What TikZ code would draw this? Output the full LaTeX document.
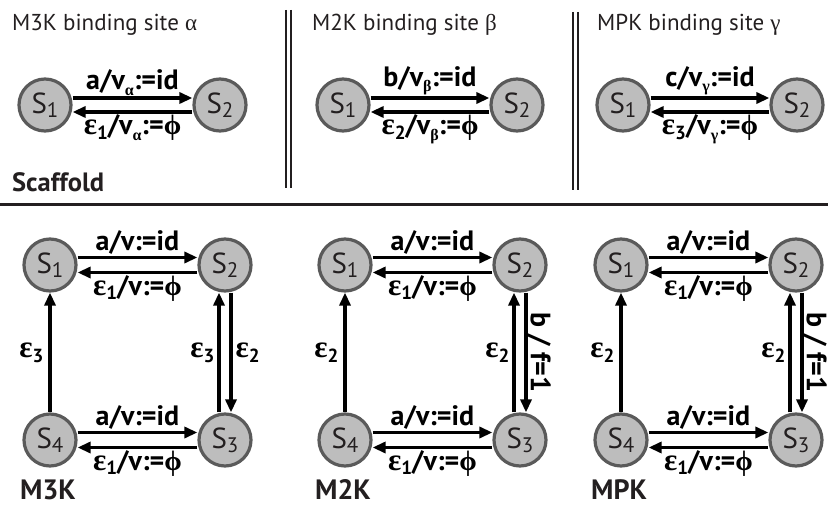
\documentclass[tikz,border=0pt]{standalone}
\usepackage{fontspec}
\usepackage{graphicx}
\setmainfont{PT Sans}
\newfontfamily\grk{Liberation Serif}
\usetikzlibrary{arrows.meta,calc}
\definecolor{sstroke}{HTML}{5A5A5A}
\definecolor{sfill}{HTML}{BDBDBD}
\definecolor{sdark}{HTML}{231F20}
\newcommand\lowsub[1]{\raisebox{-0.35ex}{\fontsize{19}{19}\selectfont #1}}
\newcommand\grsub[1]{\raisebox{-0.4ex}{\fontsize{16}{16}\selectfont #1}}
\newcommand\gal{{\grk α}}
\newcommand\gbe{{\grk β}}
\newcommand\gga{{\grk γ}}
\newcommand\geps{{\grk\fontsize{31}{31}\selectfont ε}}
\newcommand\gphi{{\grk ϕ}}
\newcommand\snum[1]{S\raisebox{-0.3ex}{\fontsize{21}{21}\selectfont #1}}
\begin{document}
\begin{tikzpicture}[x=1pt,y=-1pt,
 st/.style={circle,draw=sstroke,fill=sfill,line width=3.2pt,minimum size=52pt,inner sep=0pt,outer sep=1.6pt,font=\fontsize{29}{29}\selectfont,text=sdark},
 arr/.style={line width=3.2pt,-{Triangle[length=13pt,width=11pt]}},
 el/.style={font=\bfseries\fontsize{28}{28}\selectfont, inner sep=1pt, text=black},
 ttl/.style={font=\fontsize{23}{23}\selectfont, anchor=west, inner sep=0pt, text=sdark},
 big/.style={font=\bfseries\fontsize{28}{28}\selectfont, anchor=west, inner sep=0pt, text=sdark},
 vline/.style={line width=1.7pt, draw=sdark},
 ]
\useasboundingbox (0,0) rectangle (828,508);

% ---------- top: scaffold binding sites ----------
\node[ttl] (ti1) at (12,25) {M3K binding site \gal};
\node[ttl] (ti2) at (312,25) {M2K binding site \gbe};
\node[ttl] (ti3) at (597,25) {MPK binding site \gga};
\node[big,font=\bfseries\fontsize{26.5}{26.5}\selectfont] (scaf) at (12,182) {Scaffold};

\node[st] (t1a) at (45,105) {\snum{1}};
\node[st] (t1b) at (220,105) {\snum{2}};
\node[st] (t2a) at (343,105) {\snum{1}};
\node[st] (t2b) at (517,105) {\snum{2}};
\node[st] (t3a) at (623,105) {\snum{1}};
\node[st] (t3b) at (797,105) {\snum{2}};

\draw[arr] ([yshift=7pt]t1a.east) -- ([yshift=7pt]t1b.west) node[midway,above,el]{a/v\grsub{\gal}:=id};
\draw[arr] ([yshift=-7pt]t1b.west) -- ([yshift=-7pt]t1a.east) node[midway,below,el]{\geps\lowsub{1}/v\grsub{\gal}:=\gphi};
\draw[arr] ([yshift=7pt]t2a.east) -- ([yshift=7pt]t2b.west) node[midway,above,el]{b/v\grsub{\gbe}:=id};
\draw[arr] ([yshift=-7pt]t2b.west) -- ([yshift=-7pt]t2a.east) node[midway,below,el]{\geps\lowsub{2}/v\grsub{\gbe}:=\gphi};
\draw[arr] ([yshift=7pt]t3a.east) -- ([yshift=7pt]t3b.west) node[midway,above,el]{c/v\grsub{\gga}:=id};
\draw[arr] ([yshift=-7pt]t3b.west) -- ([yshift=-7pt]t3a.east) node[midway,below,el]{\geps\lowsub{3}/v\grsub{\gga}:=\gphi};

\draw[vline] (286,10) -- (286,188);
\draw[vline] (291,10) -- (291,188);
\draw[vline] (573,12) -- (573,190);
\draw[vline] (578,12) -- (578,190);

\draw[line width=3pt, draw=sdark] (0,205) -- (828,205);

% ---------- bottom: M3K ----------
\node[st] (a1) at (50,265) {\snum{1}};
\node[st] (a2) at (225,265) {\snum{2}};
\node[st] (a3) at (225,440) {\snum{3}};
\node[st] (a4) at (50,440) {\snum{4}};
\node[big] (n1) at (20,490) {M3K};
\draw[arr] ([yshift=7.5pt]a1.east) -- ([yshift=7.5pt]a2.west) node[midway,above,el]{a/v:=id};
\draw[arr] ([yshift=-7.5pt]a2.west) -- ([yshift=-7.5pt]a1.east) node[midway,below,el]{\geps\lowsub{1}/v:=\gphi};
\draw[arr] ([yshift=7.5pt]a4.east) -- ([yshift=7.5pt]a3.west) node[midway,above,el]{a/v:=id};
\draw[arr] ([yshift=-7.5pt]a3.west) -- ([yshift=-7.5pt]a4.east) node[midway,below,el]{\geps\lowsub{1}/v:=\gphi};
\draw[arr] (a4) -- (a1) node[midway,left=4pt,el]{\geps\lowsub{3}};
\draw[arr] ([xshift=-6pt]a3.north) -- ([xshift=-6pt]a2.south) node[midway,left=2pt,el]{\geps\lowsub{3}};
\draw[arr] ([xshift=6pt]a2.south) -- ([xshift=6pt]a3.north) node[midway,right=2pt,el]{\geps\lowsub{2}};

% ---------- bottom: M2K ----------
\node[st] (b1) at (345,265) {\snum{1}};
\node[st] (b2) at (520,265) {\snum{2}};
\node[st] (b3) at (520,440) {\snum{3}};
\node[st] (b4) at (345,440) {\snum{4}};
\node[big] (n2) at (315,490) {M2K};
\draw[arr] ([yshift=7.5pt]b1.east) -- ([yshift=7.5pt]b2.west) node[midway,above,el]{a/v:=id};
\draw[arr] ([yshift=-7.5pt]b2.west) -- ([yshift=-7.5pt]b1.east) node[midway,below,el]{\geps\lowsub{1}/v:=\gphi};
\draw[arr] ([yshift=7.5pt]b4.east) -- ([yshift=7.5pt]b3.west) node[midway,above,el]{a/v:=id};
\draw[arr] ([yshift=-7.5pt]b3.west) -- ([yshift=-7.5pt]b4.east) node[midway,below,el]{\geps\lowsub{1}/v:=\gphi};
\draw[arr] (b4) -- (b1) node[midway,left=4pt,el]{\geps\lowsub{2}};
\draw[arr] ([xshift=-6pt]b3.north) -- ([xshift=-6pt]b2.south) node[midway,left=2pt,el]{\geps\lowsub{2}};
\draw[arr] ([xshift=6pt]b2.south) -- ([xshift=6pt]b3.north) node[midway,xshift=13pt,rotate=-90,el]{b / f=1};

% ---------- bottom: MPK ----------
\node[st] (c1) at (621,265) {\snum{1}};
\node[st] (c2) at (796,265) {\snum{2}};
\node[st] (c3) at (796,440) {\snum{3}};
\node[st] (c4) at (621,440) {\snum{4}};
\node[big] (n3) at (591,490) {MPK};
\draw[arr] ([yshift=7.5pt]c1.east) -- ([yshift=7.5pt]c2.west) node[midway,above,el]{a/v:=id};
\draw[arr] ([yshift=-7.5pt]c2.west) -- ([yshift=-7.5pt]c1.east) node[midway,below,el]{\geps\lowsub{1}/v:=\gphi};
\draw[arr] ([yshift=7.5pt]c4.east) -- ([yshift=7.5pt]c3.west) node[midway,above,el]{a/v:=id};
\draw[arr] ([yshift=-7.5pt]c3.west) -- ([yshift=-7.5pt]c4.east) node[midway,below,el]{\geps\lowsub{1}/v:=\gphi};
\draw[arr] (c4) -- (c1) node[midway,left=4pt,el]{\geps\lowsub{2}};
\draw[arr] ([xshift=-6pt]c3.north) -- ([xshift=-6pt]c2.south) node[midway,left=2pt,el]{\geps\lowsub{2}};
\draw[arr] ([xshift=6pt]c2.south) -- ([xshift=6pt]c3.north) node[midway,xshift=13pt,rotate=-90,el]{b / f=1};
\end{tikzpicture}
\end{document}
